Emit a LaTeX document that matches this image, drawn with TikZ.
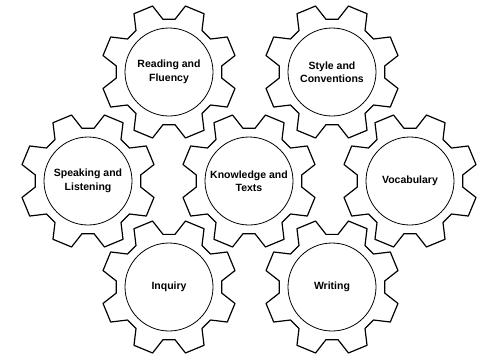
\documentclass[tikz,border=0pt]{standalone}
\usepackage{fontspec}
\setmainfont{Liberation Sans}
\usepackage{tikz}

\begin{document}
\begin{tikzpicture}[x=1pt,y=-1pt,
hub/.style={circle,draw,thick,minimum size=88pt,inner sep=0pt,align=center,font=\bfseries\fontsize{10.5}{13.5}\selectfont},
gear/.style={very thick,line join=round}]

\useasboundingbox (0,0) rectangle (487,357);

\node[hub] (g0) at (169,72) {Reading and\\Fluency};
\node[hub] (g1) at (332,72) {Style and\\Conventions};
\node[hub] (g2) at (88,181) {Speaking and\\Listening};
\node[hub] (g3) at (249,181) {Knowledge and\\Texts};
\node[hub] (g4) at (410,181) {Vocabulary};
\node[hub] (g5) at (169,287) {Inquiry};
\node[hub] (g6) at (332,287) {Writing};

% eight teeth round every hub
\foreach \i in {0,...,6}
{
\draw[gear,shift={(g\i.center)}] (-6.5:53)
  \foreach \k in {0,...,7} {-- ({45*\k+6.5}:53) -- ({45*\k+14}:68) -- ({45*\k+31}:68) -- ({45*\k+38.5}:53)} -- cycle;
}
\end{tikzpicture}
\end{document}
